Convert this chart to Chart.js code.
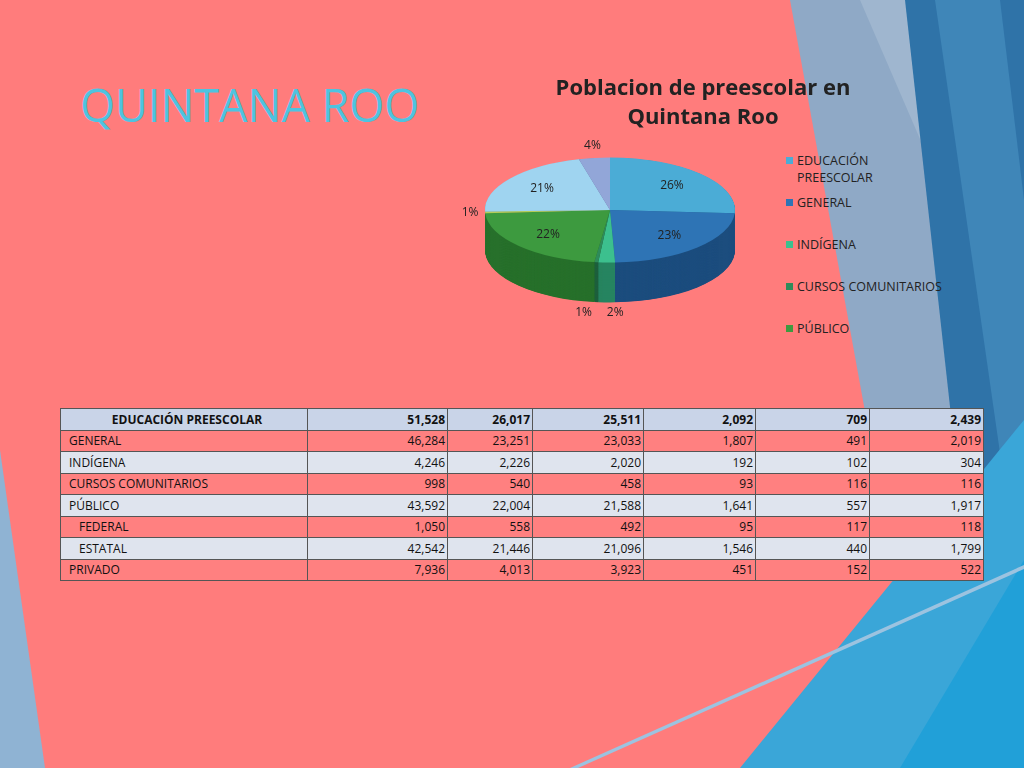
<!DOCTYPE html>
<html><head><meta charset="utf-8">
<script src="https://cdn.jsdelivr.net/npm/chart.js@4/dist/chart.umd.min.js"></script>
<style>
body{margin:0;width:1024px;height:768px;overflow:hidden;background:#ff7c7c;font-family:"Open Sans","DejaVu Sans",sans-serif;position:relative}
#bg{position:absolute;left:0;top:0}
#t1{position:absolute;left:80px;top:74px;font-size:45px;color:#4ec3e0;font-family:"Open Sans",sans-serif}
#t2{position:absolute;left:520px;top:72px;width:366px;text-align:center;font-size:22px;font-weight:bold;color:#222;line-height:29px;z-index:3;font-family:"Open Sans",sans-serif}
#pie{position:absolute;left:460px;top:60px;width:300px;height:300px;z-index:2}
#leg{position:absolute;left:786px;top:152px;font-size:12.5px;color:#222;z-index:3}
#leg div{position:relative;padding-left:11px;width:100px;line-height:17px;margin-bottom:7px;min-height:35px;white-space:normal}
#leg div.w{width:170px}
#leg span{position:absolute;left:0;top:5px;width:7px;height:7px}
table{position:absolute;left:60px;top:408px;width:923px;border-collapse:collapse;font-size:12px;color:#111;z-index:3;table-layout:fixed}
td{border:1px solid #555;height:20.5px;padding:0 2px 0 8px;text-align:right}
tr.h td{background:#c9d4e8;font-weight:bold}
tr.h td:first-child{text-align:center}
tr.l td{background:#dfe4ee}
tr.p td{background:#ff8080}
td:first-child{text-align:left}
td.sub{padding-left:18px}
</style></head><body>
<svg id="bg" width="1024" height="768">
<polygon points="790,0 1024,0 1024,768 930,768" fill="#8fa9c6"/>
<polygon points="860,0 1024,0 1024,380" fill="#9fb6cf"/>
<polygon points="905,0 1024,0 1024,768 990,768" fill="#2f73a8"/>
<polygon points="935,0 1000,0 1024,200 1024,620" fill="#3f86b8"/>
<polygon points="740,768 1024,420 1024,768" fill="#3aa6d8"/>
<polygon points="900,768 1024,560 1024,768" fill="#21a0d8"/>
<polygon points="570,768 1024,565 1024,569 578,768" fill="#9cc3e0"/>
<polygon points="0,450 45,768 0,768" fill="#8fb3d3"/>
</svg>
<div id="t1">QUINTANA ROO</div>
<div id="t2">Poblacion de preescolar en<br>Quintana Roo</div>
<canvas id="pie" width="300" height="300"></canvas>
<div id="leg"></div>
<table id="tbl"><colgroup><col style="width:247px"><col style="width:140px"><col style="width:85px"><col style="width:111px"><col style="width:112px"><col style="width:114px"><col style="width:114px"></colgroup></table>
<script>
const categories=["EDUCACIÓN PREESCOLAR","GENERAL","INDÍGENA","CURSOS COMUNITARIOS","PÚBLICO","FEDERAL","ESTATAL","PRIVADO"];
const col1=[51528,46284,4246,998,43592,1050,42542,7936];
const col2=[26017,23251,2226,540,22004,558,21446,4013];
const col3=[25511,23033,2020,458,21588,492,21096,3923];
const col4=[2092,1807,192,93,1641,95,1546,451];
const col5=[709,491,102,116,557,117,440,152];
const col6=[2439,2019,304,116,1917,118,1799,522];
const colors=["#4bacd6","#2e74b5","#3cc08e","#2e8b5a","#3d9a3f","#b5cc5a","#9fd4f0","#92a6d8"];
const darks=["#2f7f9f","#1c4d7e","#278460","#1e5f3d","#27702b","#7f903f","#6fa4bf","#6475a6"];
const legendCount=5;
const S=0.42, DEPTH=40;

const leg=document.getElementById('leg');
for(let i=0;i<legendCount;i++){leg.innerHTML+=`<div class="${i==3?'w':''}"><span style="background:${colors[i]}"></span>${categories[i]}</div>`;}
const fmt=v=>v.toLocaleString('en-US');
const tbl=document.getElementById('tbl');
let html='';
categories.forEach((c,i)=>{
  const cls=i==0?'h':(i%2==0?'l':'p');
  const sub=(c=="FEDERAL"||c=="ESTATAL")?' class="sub"':'';
  html+=`<tr class="${cls}"><td${sub}>${c}</td><td>${fmt(col1[i])}</td><td>${fmt(col2[i])}</td><td>${fmt(col3[i])}</td><td>${fmt(col4[i])}</td><td>${fmt(col5[i])}</td><td>${fmt(col6[i])}</td></tr>`;
});
tbl.insertAdjacentHTML('beforeend',html);

const pie3d={id:'pie3d',
 beforeDatasetsDraw(ch){const ctx=ch.ctx;const arcs=ch.getDatasetMeta(0).data;const cx=arcs[0].x,cy=arcs[0].y;
  ctx.save();ctx.translate(cx,cy);ctx.scale(1,S);ctx.translate(-cx,-cy);
  for(let d=Math.round(DEPTH/S);d>0;d-=1){
    arcs.forEach((a,i)=>{ctx.beginPath();ctx.moveTo(cx,cy+d);ctx.arc(cx,cy+d,a.outerRadius,a.startAngle,a.endAngle);ctx.closePath();ctx.fillStyle=darks[i];ctx.fill();});
  }},
 afterDatasetsDraw(ch){ch.ctx.restore();},
 afterDraw(ch){const ctx=ch.ctx;const arcs=ch.getDatasetMeta(0).data;const tot=col1.reduce((a,b)=>a+b,0);
  ctx.save();ctx.font='12px "Open Sans", sans-serif';ctx.fillStyle='#222';ctx.textAlign='center';ctx.textBaseline='middle';
  arcs.forEach((a,i)=>{const p=col1[i]/tot;const m=(a.startAngle+a.endAngle)/2;
    const small=p<0.05;const r=a.outerRadius*(small?1.12:0.68);
    let x=a.x+Math.cos(m)*r, y=a.y+Math.sin(m)*r*S;
    if(small&&Math.sin(m)>0.3){y+=DEPTH+4;x+=(i%2==0)?9:-11;}
    if(small&&Math.sin(m)<-0.5)y-=6;
    ctx.fillText(Math.round(p*100)+'%',x,y);});
  ctx.restore();}
};
new Chart(document.getElementById('pie'),{type:'pie',
 data:{labels:categories,datasets:[{data:col1,backgroundColor:colors,borderWidth:0}]},
 options:{responsive:false,animation:false,layout:{padding:25},plugins:{legend:{display:false},tooltip:{enabled:false}}},
 plugins:[pie3d]});
</script>
</body></html>
